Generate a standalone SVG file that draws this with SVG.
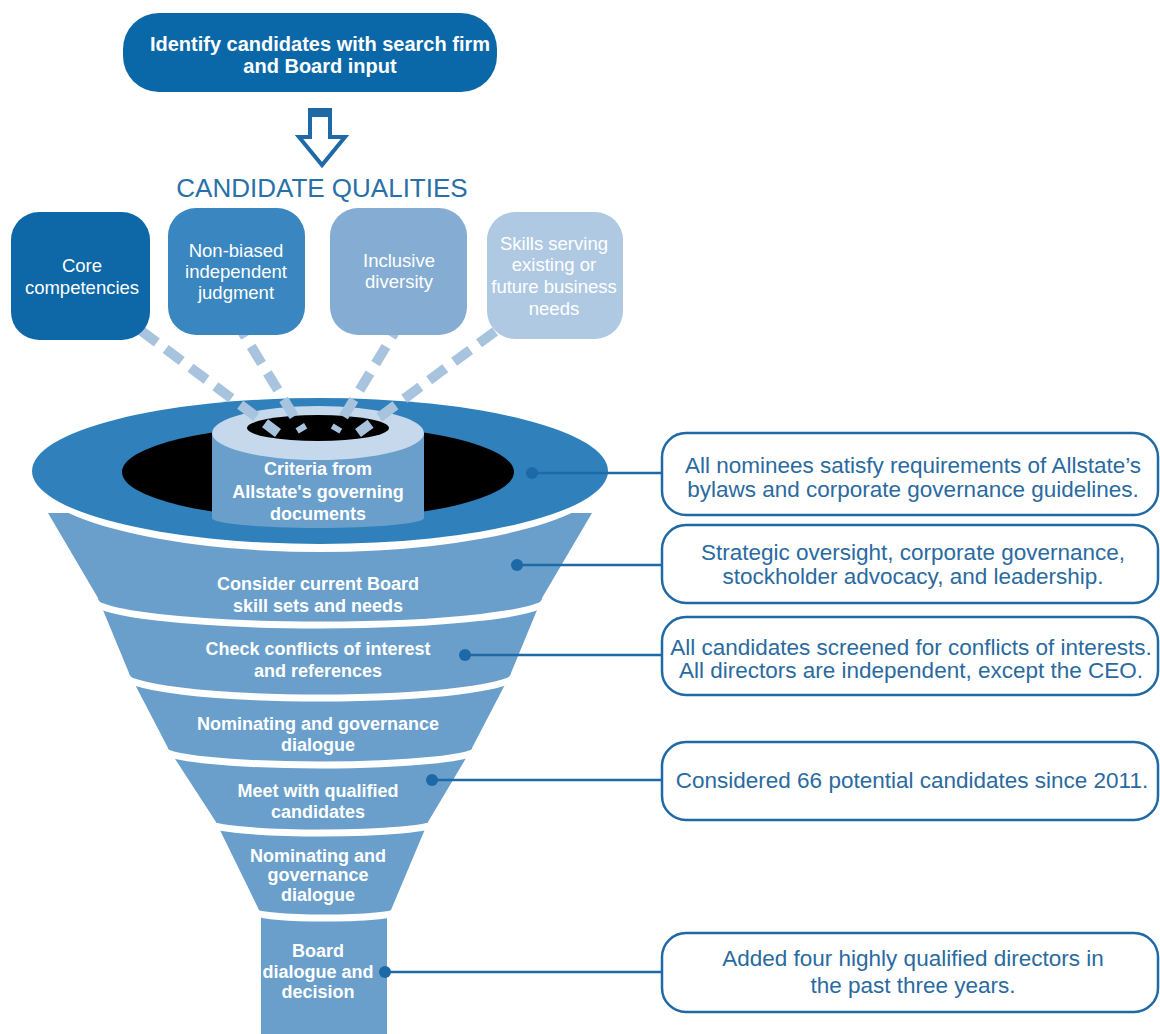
<svg xmlns="http://www.w3.org/2000/svg" width="1160" height="1034" viewBox="0 0 1160 1034">
<style>
text{font-family:"Liberation Sans",Arial,Helvetica,sans-serif}
.tw{fill:#fff;font-weight:bold;font-size:18px;text-anchor:middle}
.q{fill:#fff;font-size:18.5px;text-anchor:middle}
.rt{fill:#2a6a9f;font-size:22.5px;text-anchor:middle}
.rb{fill:#fff;stroke:#1f69a5;stroke-width:2.5}
.layer{fill:#6a9fcc}
.gap{fill:none;stroke:#fff;stroke-width:7}
.con{stroke:#1f69a5;stroke-width:2.5;fill:none}
.dot{fill:#1d68a6}
.dash{stroke:#a8c3de;stroke-width:10;stroke-dasharray:20 11;fill:none}
</style>
<rect width="1160" height="1034" fill="#fff"/>

<g id="top-box">
<rect x="123" y="13" width="374" height="79" rx="36" fill="#0b68a8"/>
<text x="320" y="51" fill="#fff" font-weight="bold" font-size="20" text-anchor="middle">Identify candidates with search firm</text>
<text x="320" y="73" fill="#fff" font-weight="bold" font-size="20" text-anchor="middle">and Board input</text>
</g>

<g id="down-arrow">
<path d="M310,110 L330,110 L330,137 L345,137 L322,165 L299,137 L310,137 Z" fill="#fff" stroke="#1f6aa6" stroke-width="4" stroke-linejoin="miter"/>
<rect x="310" y="110" width="20" height="7" fill="#1f6aa6"/>
</g>

<g id="title">
<text x="322" y="197" fill="#2870a8" font-size="26" text-anchor="middle">CANDIDATE QUALITIES</text>
</g>

<g id="funnel">
<g id="stage-board">
<rect class="layer" x="261" y="905" width="126" height="135"/>
<text class="tw" x="318" y="957">Board</text>
<text class="tw" x="318" y="978">dialogue and</text>
<text class="tw" x="318" y="998">decision</text>
</g>
<g id="stage-nominating-2">
<path class="layer" d="M216,822 L259,910 A66,7 0 0 0 391,910 L428,822 Z"/>
<path class="gap" d="M253,911 A72,7 0 0 0 397,911"/>
<text class="tw" x="318" y="862">Nominating and</text>
<text class="tw" x="318" y="881">governance</text>
<text class="tw" x="318" y="901">dialogue</text>
</g>
<g id="stage-meet">
<path class="layer" d="M168,748 L216,822 A106,10 0 0 0 428,822 L472,748 Z"/>
<path class="gap" d="M210,823 A112,10 0 0 0 434,823"/>
<text class="tw" x="318" y="797">Meet with qualified</text>
<text class="tw" x="318" y="818">candidates</text>
</g>
<g id="stage-nominating-1">
<path class="layer" d="M129,673 L168,748 A152,16 0 0 0 472,748 L511,673 Z"/>
<path class="gap" d="M162,749 A158,16 0 0 0 478,749"/>
<text class="tw" x="318" y="730">Nominating and governance</text>
<text class="tw" x="318" y="751">dialogue</text>
</g>
<g id="stage-check">
<path class="layer" d="M98,598 L129,673 A191,24 0 0 0 511,673 L542,598 Z"/>
<path class="gap" d="M123,674 A197,24 0 0 0 517,674"/>
<text class="tw" x="318" y="655">Check conflicts of interest</text>
<text class="tw" x="318" y="677">and references</text>
</g>
<g id="stage-consider">
<path class="layer" d="M48,513 L98,598 A222,26 0 0 0 542,598 L592,513 Z"/>
<path class="gap" d="M92,599 A228,26 0 0 0 548,599"/>
<text class="tw" x="318" y="590">Consider current Board</text>
<text class="tw" x="318" y="612">skill sets and needs</text>
</g>
<g id="stage-criteria">
<ellipse cx="320" cy="472" rx="293" ry="80" fill="#fff"/>
<ellipse cx="320" cy="471" rx="288" ry="73" fill="#2f80bb"/>
<ellipse cx="318" cy="472" rx="196" ry="47" fill="#000"/>
<path d="M212,433 L212,518 A106,10 0 0 0 424,518 L424,433 Z" fill="#6a9fcc"/>
<ellipse cx="318" cy="433" rx="106" ry="27" fill="#c6d8eb"/>
<ellipse cx="318" cy="428" rx="71" ry="13" fill="#000"/>
<text class="tw" x="318" y="475">Criteria from</text>
<text class="tw" x="318" y="498">Allstate's governing</text>
<text class="tw" x="318" y="520">documents</text>
</g>
</g>

<g id="connectors">
<line class="dash" x1="116" y1="312" x2="278" y2="433"/>
<line class="dash" x1="235" y1="320" x2="303" y2="431"/>
<line class="dash" x1="402" y1="320" x2="335" y2="431"/>
<line class="dash" x1="520" y1="313" x2="358" y2="433"/>
<line class="con" x1="532" y1="473" x2="662" y2="473"/>
<line class="con" x1="517" y1="565" x2="662" y2="565"/>
<line class="con" x1="465" y1="655" x2="662" y2="655"/>
<line class="con" x1="432" y1="780" x2="662" y2="780"/>
<line class="con" x1="385" y1="972" x2="662" y2="972"/>
<circle class="dot" cx="532" cy="473" r="6"/>
<circle class="dot" cx="517" cy="565" r="6"/>
<circle class="dot" cx="465" cy="655" r="6"/>
<circle class="dot" cx="432" cy="780" r="6"/>
<circle class="dot" cx="385" cy="972" r="6"/>
</g>

<g id="quality-core">
<rect x="11" y="212" width="139" height="128" rx="28" fill="#0e67a7"/>
<text class="q" x="82" y="272">Core</text>
<text class="q" x="82" y="294">competencies</text>
</g>
<g id="quality-judgment">
<rect x="168" y="208" width="137" height="127" rx="28" fill="#3a86c0"/>
<text class="q" x="236" y="257">Non-biased</text>
<text class="q" x="236" y="278">independent</text>
<text class="q" x="236" y="299">judgment</text>
</g>
<g id="quality-diversity">
<rect x="330" y="208" width="137" height="127" rx="28" fill="#85add3"/>
<text class="q" x="399" y="267">Inclusive</text>
<text class="q" x="399" y="288">diversity</text>
</g>
<g id="quality-skills">
<rect x="487" y="212" width="136" height="127" rx="28" fill="#afc9e3"/>
<text class="q" x="554" y="250">Skills serving</text>
<text class="q" x="554" y="271">existing or</text>
<text class="q" x="554" y="293">future business</text>
<text class="q" x="554" y="315">needs</text>
</g>

<g id="note-bylaws">
<rect class="rb" x="662" y="433" width="496" height="82" rx="24"/>
<text class="rt" x="913" y="473">All nominees satisfy requirements of Allstate’s</text>
<text class="rt" x="913" y="497">bylaws and corporate governance guidelines.</text>
</g>
<g id="note-strategic">
<rect class="rb" x="662" y="525" width="496" height="78" rx="24"/>
<text class="rt" x="913" y="560">Strategic oversight, corporate governance,</text>
<text class="rt" x="913" y="584">stockholder advocacy, and leadership.</text>
</g>
<g id="note-conflicts">
<rect class="rb" x="662" y="617" width="496" height="78" rx="24"/>
<text class="rt" x="911" y="655">All candidates screened for conflicts of interests.</text>
<text class="rt" x="911" y="678">All directors are independent, except the CEO.</text>
</g>
<g id="note-considered">
<rect class="rb" x="662" y="742" width="496" height="78" rx="24"/>
<text class="rt" x="912" y="788">Considered 66 potential candidates since 2011.</text>
</g>
<g id="note-added">
<rect class="rb" x="662" y="933" width="496" height="79" rx="24"/>
<text class="rt" x="913" y="966">Added four highly qualified directors in</text>
<text class="rt" x="913" y="993">the past three years.</text>
</g>
</svg>
